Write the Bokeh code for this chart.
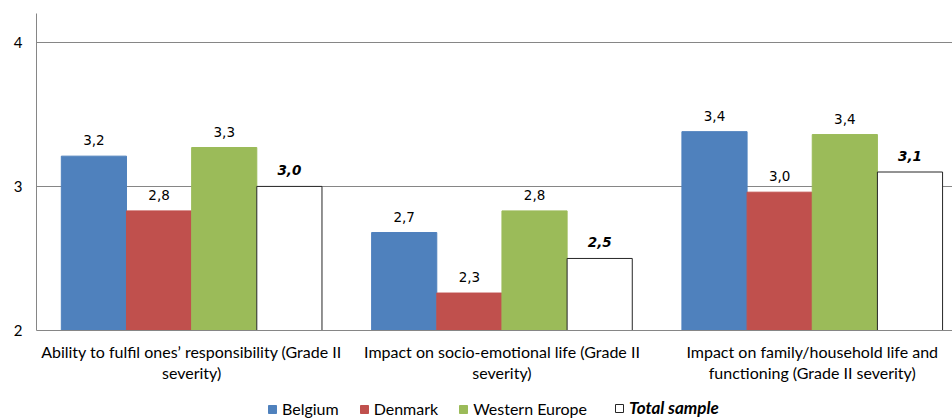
from bokeh.plotting import figure
from bokeh.layouts import column
from bokeh.models import Range1d, FixedTicker, Legend, LegendItem, ColumnDataSource
from bokeh.core.properties import value
from bokeh.embed import file_html
from bokeh.resources import INLINE

categories = [
    "Ability to fulfil ones\u2019 responsibility (Grade II\nseverity)",
    "Impact on socio-emotional life (Grade II\nseverity)",
    "Impact on family/household life and\nfunctioning (Grade II severity)",
]
series_names = ["Belgium", "Denmark", "Western Europe", "Total sample"]
belgium = [3.21, 2.68, 3.38]
denmark = [2.83, 2.26, 2.96]
western_europe = [3.27, 2.83, 3.36]
total_sample = [3.00, 2.50, 3.10]
y_ticks = [2, 3, 4]

series_values = [belgium, denmark, western_europe, total_sample]
fills = ["#4F81BD", "#C0504D", "#9BBB59", "#FFFFFF"]
lines = [None, None, None, "#262626"]
offsets = [-0.315, -0.105, 0.105, 0.315]
bar_w = 0.21
grey = "#868686"

p = figure(width=952, height=394, x_range=Range1d(0, 2.952), y_range=Range1d(2, 4.2),
           output_backend="svg", toolbar_location=None,
           min_border_left=36, min_border_right=0, min_border_top=13, min_border_bottom=64)
p.outline_line_color = None
p.background_fill_color = "white"
p.border_fill_color = "white"

for name, vals, fc, lc, off in zip(series_names, series_values, fills, lines, offsets):
    xs = [i + 0.5 + off for i in range(len(vals))]
    src = ColumnDataSource(dict(x=xs, top=vals,
                                lab=[f"{v:.1f}".replace(".", ",") for v in vals]))
    p.vbar(x="x", top="top", bottom=2, width=bar_w, source=src, fill_color=fc,
           line_color=lc if lc else fc, line_width=1)
    p.text(x="x", y="top", text="lab", source=src, text_align="center", text_baseline="bottom",
           y_offset=-11, text_font=value("DejaVu Sans"), text_font_size="13.5px",
           text_color="#000000",
           text_font_style="bold italic" if name == "Total sample" else "normal")

# axes
p.xaxis.ticker = FixedTicker(ticks=[i + 0.5 for i in range(len(categories))], minor_ticks=[])
p.xaxis.major_label_overrides = {i + 0.5: c for i, c in enumerate(categories)}
p.xaxis.major_tick_out = 0
p.xaxis.major_tick_in = 0
p.xaxis.minor_tick_out = 0
p.xaxis.minor_tick_in = 0
p.xaxis.axis_line_color = grey
p.xaxis.major_label_standoff = 11
p.xaxis.major_label_text_font = "Lato"
p.xaxis.major_label_text_font_size = "16px"
p.xaxis.major_label_text_color = "#000000"
p.xaxis.major_label_text_line_height = 1.15

p.yaxis.ticker = FixedTicker(ticks=y_ticks, minor_ticks=[])
p.yaxis.major_tick_out = 0
p.yaxis.major_tick_in = 0
p.yaxis.axis_line_color = grey
p.yaxis.major_label_standoff = 14
p.yaxis.major_label_text_font = "Lato"
p.yaxis.major_label_text_font_size = "15px"
p.yaxis.major_label_text_color = "#000000"

p.xgrid.visible = False
p.ygrid.ticker = FixedTicker(ticks=[t for t in y_ticks if t > y_ticks[0]])
p.ygrid.grid_line_color = grey

# legend strip
lg = figure(width=952, height=24, x_range=Range1d(0, 1), y_range=Range1d(0, 1),
            output_backend="svg", toolbar_location=None, min_border=0,
            x_axis_location=None, y_axis_location=None)
lg.outline_line_color = None
lg.grid.visible = False
swatches = []
for fc, lc in zip(fills, lines):
    # swatch renderers sit outside the visible range; only their legend glyphs show
    swatches.append(lg.vbar(x=[-5], top=[-5], bottom=[-6], width=0.1, fill_color=fc,
                            line_color=lc if lc else fc))

common = dict(orientation="horizontal", glyph_width=10, glyph_height=10, label_standoff=5,
              spacing=20, padding=0, margin=0, border_line_color=None, background_fill_alpha=0,
              label_text_font="Lato", label_height=16, label_text_color="#000000")
leg1 = Legend(items=[LegendItem(label=n, renderers=[r]) for n, r in zip(series_names[:3], swatches[:3])],
              location=(231, 0), label_text_font_size="16px", **common)
leg2 = Legend(items=[LegendItem(label=series_names[3], renderers=[swatches[3]])],
              location=(578, 0), label_text_font_size="17px",
              label_text_font_style="bold italic", **common)
lg.add_layout(leg1, "center")
lg.add_layout(leg2, "center")

layout = column(p, lg)
open("out.html", "w").write(file_html(layout, INLINE))
